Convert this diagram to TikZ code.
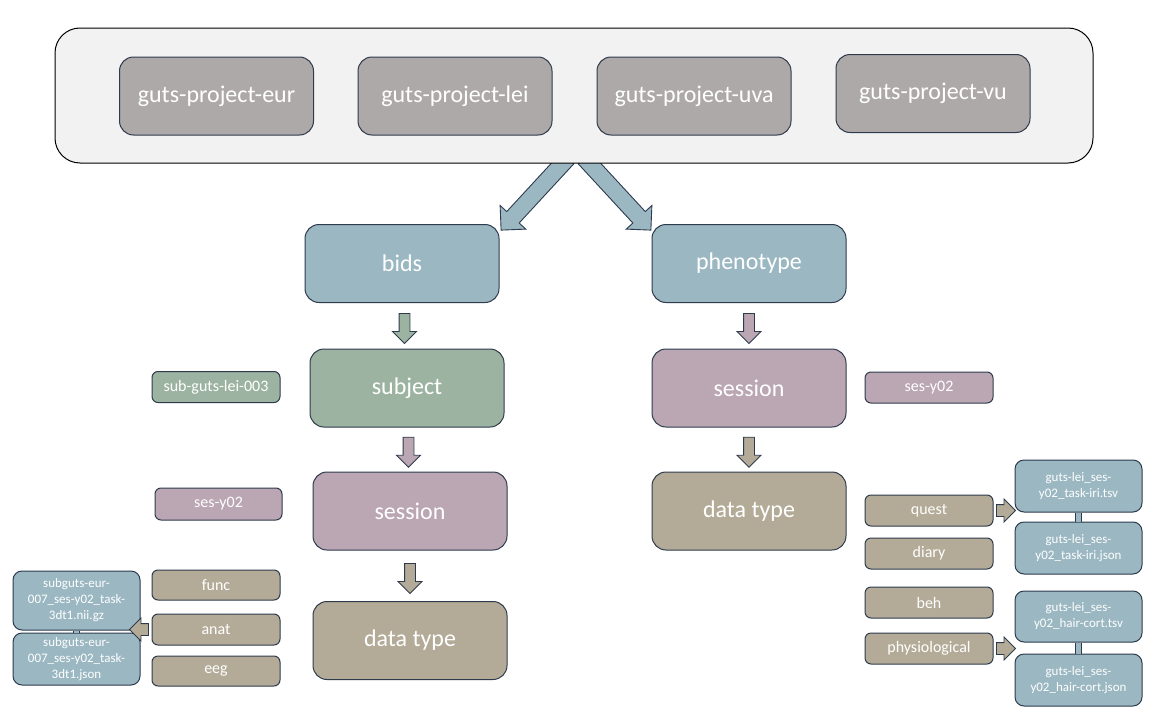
\documentclass[tikz,border=0pt]{standalone}
\usepackage{fontspec}
\setmainfont{Carlito}
\usetikzlibrary{shapes.arrows,calc}
\definecolor{bd}{HTML}{2E3B4C}
\definecolor{cgray}{HTML}{ADA9A9}
\definecolor{cblue}{HTML}{9AB7C2}
\definecolor{cgreen}{HTML}{9BB3A0}
\definecolor{cpurple}{HTML}{BBA6B4}
\definecolor{ctan}{HTML}{B3AB97}
\definecolor{cont}{HTML}{F2F2F2}
\begin{document}
\begin{tikzpicture}[x=1pt,y=-1pt,
  box/.style={draw=bd, line width=1pt, rounded corners=14pt, text=white,
    font=\fontsize{24}{28}\selectfont, minimum width=194pt, minimum height=78pt, inner sep=0pt},
  smallbox/.style={draw=bd, line width=1pt, rounded corners=6pt, text=white,
    font=\fontsize{16}{19}\selectfont, minimum width=128pt, minimum height=31pt, inner sep=0pt},
  filebox/.style={draw=bd, line width=1pt, rounded corners=9pt, text=white,
    font=\fontsize{13}{16}\selectfont, align=center, minimum width=127pt, minimum height=52pt, inner sep=0pt},
  blockarr/.style={single arrow, draw=bd, line width=0.9pt, inner xsep=0pt, single arrow head indent=0pt},
  darr/.style={blockarr, inner ysep=5pt, minimum height=30pt, minimum width=23pt, single arrow head extend=6.5pt, rotate=-90},
  sarr/.style={blockarr, inner ysep=5.5pt, minimum height=19pt, minimum width=22pt, single arrow head extend=5.5pt},
  link/.style={draw=bd, line width=1pt, double=cblue, double distance=5pt}
]
\useasboundingbox (0,0) rectangle (1162,720);

% big diagonal arrows (behind container)
\node[blockarr, fill=cblue, inner ysep=8pt, minimum height=98pt, minimum width=34pt, single arrow head extend=9pt, rotate=227.3] (bigL) at (537.2,191) {};
\node[blockarr, fill=cblue, inner ysep=8pt, minimum height=98pt, minimum width=34pt, single arrow head extend=9pt, rotate=-47.3] (bigR) at (614.8,191) {};

% container
\node[draw=black, line width=1pt, fill=cont, rounded corners=25pt, minimum width=1038pt, minimum height=135pt, inner sep=0pt] (org) at (574,95.5) {};

\node[box, fill=cgray] (eur) at (216.5,96) {guts-project-eur};
\node[box, fill=cgray] (lei) at (455,96) {guts-project-lei};
\node[box, fill=cgray] (uva) at (694,96) {guts-project-uva};
\node[box, fill=cgray] (vu) at (933,93.5) {guts-project-vu};

% left column
\node[box, fill=cblue] (bids) at (402,263.5) {bids};
\node[box, fill=cgreen] (subject) at (407,388) {subject};
\node[box, fill=cpurple] (sesL) at (410,511) {session};
\node[box, fill=ctan] (dtL) at (410,640.5) {data type};

\node[smallbox, fill=cgreen] (subid) at (216,387) {sub-guts-lei-003};
\node[smallbox, fill=cpurple, minimum width=127pt, minimum height=32pt] (sesidL) at (218.5,504) {ses-y02};
\node[smallbox, fill=ctan, minimum height=30pt] (func) at (216,585) {func};
\node[smallbox, fill=ctan] (anat) at (216,629.5) {anat};
\node[smallbox, fill=ctan, minimum height=30pt] (eeg) at (216,671) {eeg};

\node[filebox, fill=cblue, minimum height=59pt] (fA) at (76.5,600.5) {subguts-eur-\\007\_ses-y02\_task-\\3dt1.nii.gz};
\node[filebox, fill=cblue, minimum height=52pt] (fB) at (76.5,659) {subguts-eur-\\007\_ses-y02\_task-\\3dt1.json};

% right column
\node[box, fill=cblue] (pheno) at (749,263.5) {phenotype};
\node[box, fill=cpurple] (sesR) at (749,388) {session};
\node[box, fill=ctan] (dtR) at (749,511) {data type};

\node[smallbox, fill=cpurple] (sesidR) at (929,387.5) {ses-y02};
\node[smallbox, fill=ctan] (quest) at (929,510.5) {quest};
\node[smallbox, fill=ctan] (diary) at (929,553.5) {diary};
\node[smallbox, fill=ctan] (beh) at (929,602.5) {beh};
\node[smallbox, fill=ctan] (physio) at (929,648.5) {physiological};

\node[filebox, fill=cblue] (t1) at (1078.5,486) {guts-lei\_ses-\\y02\_task-iri.tsv};
\node[filebox, fill=cblue] (j1) at (1078.5,548) {guts-lei\_ses-\\y02\_task-iri.json};
\node[filebox, fill=cblue, minimum height=51pt] (t2) at (1078.5,616.5) {guts-lei\_ses-\\y02\_hair-cort.tsv};
\node[filebox, fill=cblue] (j2) at (1078.5,680) {guts-lei\_ses-\\y02\_hair-cort.json};

% links between file boxes
\draw[link] (fA.south) -- (fB.north);
\draw[link] (t1.south) -- (j1.north);
\draw[link] (t2.south) -- (j2.north);

% down arrows
\node[darr, fill=cgreen] (a1) at ($(bids.south)!0.5!(subject.north)$) {};
\node[darr, fill=cpurple] (a2) at ($(subject.south)!0.5!(sesL.north)$) {};
\node[darr, fill=ctan] (a3) at ($(sesL.south)!0.5!(dtL.north)$) {};
\node[darr, fill=cpurple] (a4) at ($(pheno.south)!0.5!(sesR.north)$) {};
\node[darr, fill=ctan] (a5) at ($(sesR.south)!0.5!(dtR.north)$) {};

% side arrows
\node[sarr, fill=ctan, rotate=180] (a6) at ($(anat.west)+(-9.5,0)$) {};
\node[sarr, fill=ctan] (a7) at ($(quest.east)+(9.5,0)$) {};
\node[sarr, fill=ctan] (a8) at ($(physio.east)+(9.5,0)$) {};
\end{tikzpicture}
\end{document}
